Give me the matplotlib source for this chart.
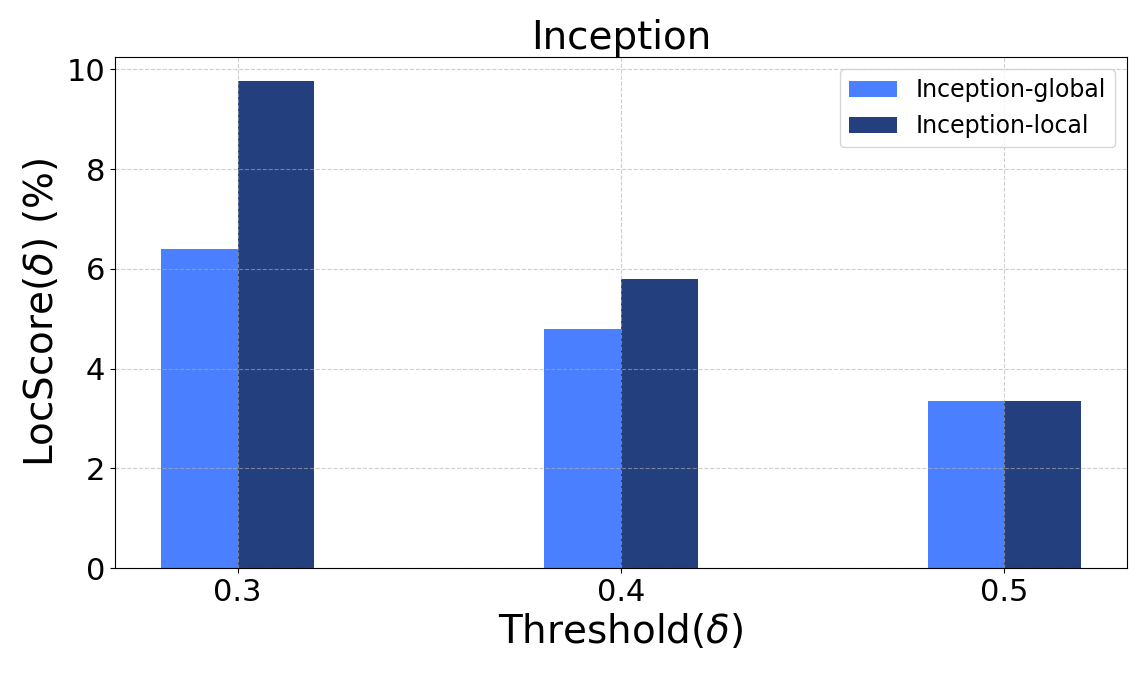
import numpy as np
from matplotlib import pyplot as plt

thresholds = [0.3, 0.4, 0.5]
tick_labels = ['0.3', '0.4', '0.5']
global_scores = [6.4, 4.8, 3.35]
local_scores = [9.76, 5.8, 3.35]

width = 0.02
x = np.array(thresholds)

fig = plt.figure(figsize=(11.42, 6.85), dpi=100)
ax = fig.add_axes([0.1007, 0.1708, 0.8862, 0.746])

ax.bar(x - width / 2, global_scores, width, color='#4a7fff', label='Inception-global')
ax.bar(x + width / 2, local_scores, width, color='#233f7e', label='Inception-local')

ax.set_xticks(x)
ax.set_xticklabels(tick_labels)
ax.set_ylim(0, 10.25)
ax.set_title('Inception', fontsize=28)
ax.set_xlabel(r'Threshold($\delta$)', fontsize=28)
ax.set_ylabel(r'LocScore($\delta$) (%)', fontsize=28)
ax.tick_params(labelsize=22)
ax.grid(True, linestyle='--', color='#b0b0b0', alpha=0.6)
ax.legend(loc='upper right', fontsize=17)

fig.savefig('out.png', dpi=100)
